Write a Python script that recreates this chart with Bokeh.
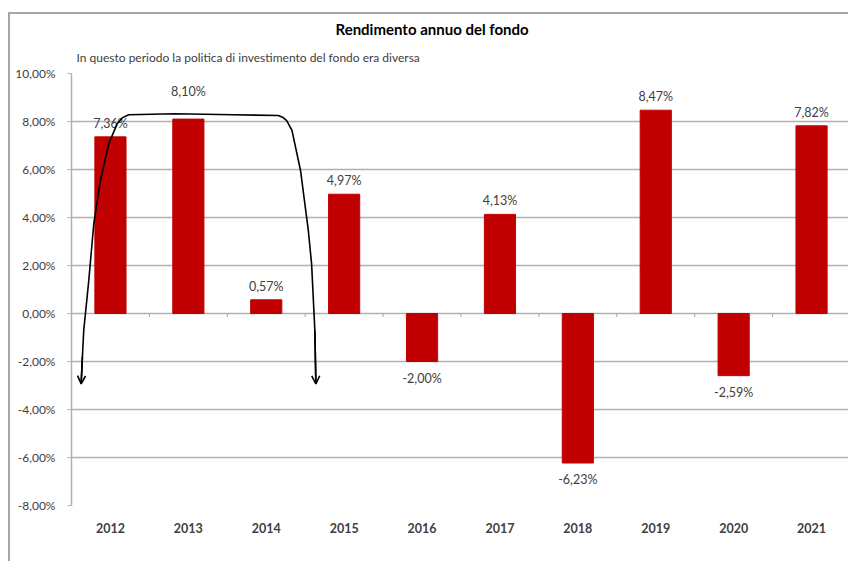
from bokeh.plotting import figure
from bokeh.models import Range1d, FixedTicker, Title, Arrow, OpenHead, ColumnDataSource
from bokeh.embed import file_html
from bokeh.resources import INLINE

# ---- data ----
years = ["2012", "2013", "2014", "2015", "2016", "2017", "2018", "2019", "2020", "2021"]
returns = [7.36, 8.10, 0.57, 4.97, -2.00, 4.13, -6.23, 8.47, -2.59, 7.82]
y_ticks = [-8, -6, -4, -2, 0, 2, 4, 6, 8, 10]
title_text = "Rendimento annuo del fondo"
note_text = "In questo periodo la politica di investimento del fondo era diversa"

# hand-drawn bracket annotation (category units, percent)
arrow_x = [0.124, 0.14, 0.157, 0.19, 0.222, 0.286, 0.371, 0.478, 0.585, 0.65, 0.734,
           1.332, 2.078, 2.654, 2.71, 2.762, 2.83, 2.94, 3.04, 3.082, 3.124, 3.137]
arrow_y = [-2.93, -1.8, -0.71, 0.35, 1.38, 3.74, 5.54, 7.07, 7.90, 8.15, 8.28,
           8.32, 8.28, 8.25, 8.18, 8.04, 7.63, 5.96, 3.46, 2.07, -0.71, -2.93]

FONT = "Lato"
BAR = "#C00000"
GRID = "#b0b0b0"
TXT = "#404040"

n = len(years)
xs = [i + 0.5 for i in range(n)]


def fmt(v):
    return f"{v:.2f}%".replace(".", ",")


p = figure(width=840, height=549, output_backend="svg", toolbar_location=None,
           x_range=Range1d(0, n), y_range=Range1d(y_ticks[0], y_ticks[-1]),
           min_border_left=61, min_border_right=0, min_border_top=59, min_border_bottom=58)
p.styles = {"border-top": "2px solid #a6a6a6", "border-left": "2px solid #a6a6a6",
            "margin-top": "12px", "margin-left": "8px"}
p.outline_line_color = None
p.background_fill_color = "white"
p.border_fill_color = "white"

# titles (first added sits next to the frame)
p.add_layout(Title(text=note_text, align="left", offset=5, standoff=17,
                   text_font=FONT, text_font_size="12px", text_font_style="normal",
                   text_color=TXT), "above")
p.add_layout(Title(text=title_text, align="left", offset=264, standoff=4,
                   text_font=FONT, text_font_size="15px", text_font_style="bold",
                   text_color="black"), "above")

# grid
p.xgrid.grid_line_color = None
p.ygrid.ticker = FixedTicker(ticks=y_ticks)
p.ygrid.grid_line_color = GRID
p.ygrid.grid_line_width = 1.5

# y axis
p.yaxis.ticker = FixedTicker(ticks=y_ticks)
p.yaxis.major_label_overrides = {t: fmt(t) for t in y_ticks}
p.yaxis.axis_line_color = GRID
p.yaxis.axis_line_width = 1.5
p.yaxis.major_tick_line_color = GRID
p.yaxis.major_tick_in = 0
p.yaxis.major_tick_out = 4
p.yaxis.minor_tick_line_color = None
p.yaxis.major_label_standoff = 12
p.yaxis.major_label_text_font = FONT
p.yaxis.major_label_text_font_size = "12px"
p.yaxis.major_label_text_color = TXT

# x axis
p.xaxis.ticker = FixedTicker(ticks=xs)
p.xaxis.major_label_overrides = {x: y for x, y in zip(xs, years)}
p.xaxis.axis_line_color = None
p.xaxis.major_tick_line_color = None
p.xaxis.minor_tick_line_color = None
p.xaxis.major_label_standoff = 11
p.xaxis.major_label_text_font = FONT
p.xaxis.major_label_text_font_size = "12.5px"
p.xaxis.major_label_text_font_style = "bold"
p.xaxis.major_label_text_color = TXT

# bars
p.vbar(x=xs, top=returns, bottom=0, width=0.4, fill_color=BAR, line_color=BAR)

# category boundary ticks on the zero line
bounds = list(range(1, n))
p.segment(x0=bounds, y0=[0] * len(bounds), x1=bounds, y1=[-0.15] * len(bounds),
          line_color=GRID, line_width=1.2)

# data labels
pos = [(x, v, fmt(v), -20 if yr == "2013" else -6) for x, v, yr in zip(xs, returns, years) if v >= 0]
neg = [(x, v, fmt(v)) for x, v in zip(xs, returns) if v < 0]
src_pos = ColumnDataSource(dict(x=[a[0] for a in pos], y=[a[1] for a in pos],
                                t=[a[2] for a in pos], off=[a[3] for a in pos]))
src_neg = ColumnDataSource(dict(x=[a[0] for a in neg], y=[a[1] for a in neg],
                                t=[a[2] for a in neg]))
p.text(x="x", y="y", text="t", y_offset="off", source=src_pos, text_align="center",
       text_baseline="bottom", text_font={"value": FONT}, text_font_size="12.5px", text_color=TXT)
p.text(x="x", y="y", text="t", y_offset=9, source=src_neg, text_align="center",
       text_baseline="top", text_font={"value": FONT}, text_font_size="12.5px", text_color=TXT)

# bracket annotation
p.line(arrow_x, arrow_y, line_color="black", line_width=1.6, line_join="round")
for (xa, ya, xb, yb) in [(arrow_x[1], arrow_y[1], arrow_x[0], arrow_y[0]),
                         (arrow_x[-2], arrow_y[-2], arrow_x[-1], arrow_y[-1])]:
    p.add_layout(Arrow(end=OpenHead(size=8, line_width=1.6, line_color="black"),
                       x_start=xa, y_start=ya, x_end=xb, y_end=yb,
                       line_color="black", line_width=1.6))

open("out.html", "w").write(file_html(p, INLINE))
